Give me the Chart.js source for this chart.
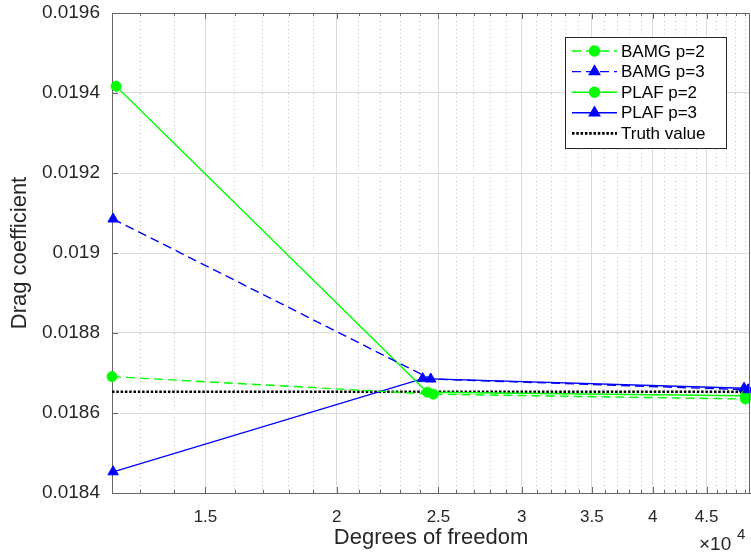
<!DOCTYPE html>
<html>
<head>
<meta charset="utf-8">
<script src="https://cdn.jsdelivr.net/npm/chart.js@4.4.0/dist/chart.umd.min.js"></script>
<style>
  html, body { margin: 0; padding: 0; background: #fff; }
</style>
</head>
<body>
<canvas id="dragChart" width="751" height="554"></canvas>
<script>
// values (x = degrees of freedom, y = drag coefficient)
var bamgP2X = [12220, 24720, 49000];
var bamgP2Y = [0.018691, 0.018647, 0.018635];
var bamgP3X = [12250, 24580, 49290];
var bamgP3Y = [0.019085, 0.018685, 0.018658];
var plafP2X = [12330, 24400, 49000];
var plafP2Y = [0.019417, 0.018652, 0.018643];
var plafP3X = [12250, 24150, 48860];
var plafP3Y = [0.018453, 0.018686, 0.018662];
var truthValue = 0.018653;

var xLimits = [12220, 49500];
var yLimits = [0.0184, 0.0196];
var xMajorTicks = [15000, 20000, 25000, 30000, 35000, 40000, 45000];
var xMinorTicks = [13000, 14000, 16000, 17000, 18000, 19000, 21000, 22000, 23000, 24000,
                   26000, 27000, 28000, 29000, 31000, 32000, 33000, 34000, 36000, 37000,
                   38000, 39000, 41000, 42000, 43000, 44000, 46000, 47000, 48000, 49000];
var yTicks = [0.0184, 0.0186, 0.0188, 0.019, 0.0192, 0.0194, 0.0196];

var GREEN = '#00ff00';
var BLUE = '#0000ff';
var AXIS = '#666666';
var TEXT = '#262626';

Chart.defaults.font.family = '"Liberation Sans", Arial, sans-serif';

function toPoints(xs, ys) {
    return xs.map(function (x, i) { return { x: x, y: ys[i] }; });
}

function series(label, xs, ys, color, dash, style, radius) {
    return {
        label: label,
        data: toPoints(xs, ys),
        showLine: true,
        borderColor: color,
        backgroundColor: color,
        borderWidth: 1.4,
        borderDash: dash,
        pointStyle: style,
        pointRadius: radius,
        pointBorderWidth: 1,
        pointBorderColor: color,
        pointBackgroundColor: color,
        clip: false
    };
}

// no label overflow padding, the plot box is placed by layout.padding
function noOverflow(s) {
    s.paddingTop = 0;
    s.paddingBottom = 0;
    s.paddingLeft = 0;
    s.paddingRight = 0;
}

// legend box drawn inside the plot, like the matlab one
var boxLegend = {
    id: 'boxLegend',
    afterDatasetsDraw: function (chart) {
        var ctx = chart.ctx;
        var x0 = 565, y0 = 37, w = 161, h = 111;
        ctx.save();
        ctx.fillStyle = '#fff';
        ctx.fillRect(x0, y0, w, h);
        ctx.strokeStyle = TEXT;
        ctx.lineWidth = 1;
        ctx.strokeRect(x0 + 0.5, y0 + 0.5, w, h);
        chart.data.datasets.forEach(function (ds, i) {
            var y = y0 + 14 + i * 20.6;
            ctx.strokeStyle = ds.borderColor;
            ctx.lineWidth = ds.borderWidth;
            ctx.setLineDash(ds.borderDash || []);
            ctx.beginPath();
            ctx.moveTo(x0 + 7, y);
            ctx.lineTo(x0 + 52, y);
            ctx.stroke();
            ctx.setLineDash([]);
            if (ds.pointRadius > 0) {
                ctx.fillStyle = ds.borderColor;
                Chart.helpers.drawPoint(ctx, {
                    pointStyle: ds.pointStyle,
                    radius: ds.pointRadius,
                    borderWidth: 1,
                    rotation: 0
                }, x0 + 29.5, y);
            }
            ctx.fillStyle = '#000';
            ctx.font = '17px "Liberation Sans", Arial, sans-serif';
            ctx.textBaseline = 'middle';
            ctx.fillText(ds.label, x0 + 56, y + 1);
        });
        ctx.restore();
    }
};

// box, inward tick marks and the x10^4 multiplier
var frame = {
    id: 'frame',
    afterDraw: function (chart) {
        var ctx = chart.ctx;
        var a = chart.chartArea;
        var xs = chart.scales.x, ys = chart.scales.y;
        ctx.save();
        ctx.strokeStyle = AXIS;
        ctx.lineWidth = 1;
        ctx.beginPath();
        ctx.moveTo(a.left, a.top + 0.5);
        ctx.lineTo(a.right - 0.5, a.top + 0.5);
        ctx.lineTo(a.right - 0.5, a.bottom);
        xMajorTicks.forEach(function (v) {
            var px = Math.round(xs.getPixelForValue(v)) + 0.5;
            ctx.moveTo(px, a.bottom); ctx.lineTo(px, a.bottom - 6);
            ctx.moveTo(px, a.top); ctx.lineTo(px, a.top + 6);
        });
        xMinorTicks.forEach(function (v) {
            var px = Math.round(xs.getPixelForValue(v)) + 0.5;
            ctx.moveTo(px, a.bottom); ctx.lineTo(px, a.bottom - 3);
            ctx.moveTo(px, a.top); ctx.lineTo(px, a.top + 3);
        });
        yTicks.forEach(function (v) {
            var py = Math.round(ys.getPixelForValue(v)) + 0.5;
            ctx.moveTo(a.left, py); ctx.lineTo(a.left + 6, py);
        });
        ctx.stroke();
        ctx.fillStyle = TEXT;
        ctx.textBaseline = 'alphabetic';
        ctx.font = '19px "Liberation Sans", Arial, sans-serif';
        ctx.fillText('\u00d710', 699, 550);
        ctx.font = '15px "Liberation Sans", Arial, sans-serif';
        ctx.fillText('4', 737, 539);
        ctx.restore();
    }
};

new Chart(document.getElementById('dragChart').getContext('2d'), {
    type: 'scatter',
    data: {
        datasets: [
            series('BAMG p=2', bamgP2X, bamgP2Y, GREEN, [9, 5], 'circle', 5),
            series('BAMG p=3', bamgP3X, bamgP3Y, BLUE, [9, 5], 'triangle', 6),
            series('PLAF p=2', plafP2X, plafP2Y, GREEN, [], 'circle', 5),
            series('PLAF p=3', plafP3X, plafP3Y, BLUE, [], 'triangle', 6),
            {
                label: 'Truth value',
                data: toPoints(xLimits, [truthValue, truthValue]),
                showLine: true,
                borderColor: '#000',
                borderWidth: 2.6,
                borderDash: [2.5, 1.8],
                pointRadius: 0
            }
        ]
    },
    options: {
        responsive: false,
        animation: false,
        layout: { autoPadding: false, padding: { top: 13, right: 1, left: 0, bottom: 0 } },
        plugins: { legend: { display: false }, tooltip: { enabled: false } },
        scales: {
            x: {
                type: 'logarithmic',
                position: 'bottom',
                min: xLimits[0],
                max: xLimits[1],
                afterBuildTicks: function (s) {
                    s.ticks = xMajorTicks.map(function (v) { return { value: v }; });
                },
                afterFit: function (s) { s.height = 61; noOverflow(s); },
                ticks: {
                    callback: function (v) { return String(v / 10000); },
                    color: TEXT,
                    font: { size: 17 },
                    padding: 14,
                    maxRotation: 0
                },
                grid: { color: '#dcdcdc', drawTicks: false },
                border: { color: AXIS },
                title: {
                    display: true,
                    text: 'Degrees of freedom',
                    color: TEXT,
                    font: { size: 22 },
                    padding: { top: 0, bottom: 3 }
                }
            },
            xMinor: {
                type: 'logarithmic',
                position: 'bottom',
                min: xLimits[0],
                max: xLimits[1],
                afterBuildTicks: function (s) {
                    s.ticks = xMinorTicks.map(function (v) { return { value: v }; });
                },
                afterFit: function (s) { s.height = 0; noOverflow(s); },
                ticks: { display: false },
                grid: { color: '#c8c8c8', drawTicks: false, borderDash: [1, 3] },
                border: { display: false, dash: [1, 3] }
            },
            y: {
                min: yLimits[0],
                max: yLimits[1],
                afterBuildTicks: function (s) {
                    s.ticks = yTicks.map(function (v) { return { value: v }; });
                },
                afterFit: function (s) { s.width = 112; noOverflow(s); },
                ticks: {
                    callback: function (v) { return String(Number(v.toFixed(4))); },
                    color: TEXT,
                    font: { size: 19 },
                    padding: 12
                },
                grid: { color: '#dcdcdc', drawTicks: false },
                border: { color: AXIS },
                title: {
                    display: true,
                    text: 'Drag coefficient',
                    color: TEXT,
                    font: { size: 22 },
                    padding: { top: 7, bottom: 0 }
                }
            }
        }
    },
    plugins: [boxLegend, frame]
});
</script>
</body>
</html>
